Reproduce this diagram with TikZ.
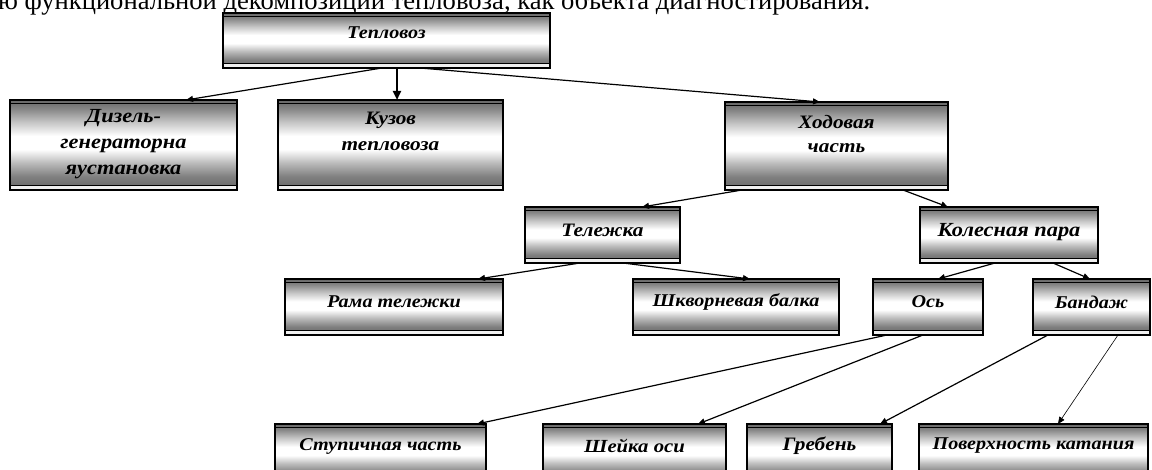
\documentclass[tikz,border=0pt]{standalone}
\usepackage{fontspec}
\setmainfont{Liberation Serif}
\newfontfamily\boxfont[FakeStretch=1.12]{Liberation Serif}
\usetikzlibrary{arrows.meta,calc}
\definecolor{cA}{gray}{0.40}
\definecolor{cB}{gray}{0.53}
\definecolor{cC}{gray}{0.78}
\definecolor{cD}{gray}{0.73}
\definecolor{cE}{gray}{0.50}
\pgfdeclareverticalshading{cyl}{100bp}{color(0bp)=(cA); color(25bp)=(cA); color(32.5bp)=(cE); color(40bp)=(cD); color(47.5bp)=(white); color(55bp)=(white); color(62.5bp)=(cC); color(70bp)=(cB); color(75bp)=(cA); color(100bp)=(cA)}
\tikzset{
  box/.style={rectangle, draw=black, line width=1.2pt, shading=cyl, inner sep=0pt, outer sep=0pt,
    path picture={
      \draw[line width=0.9pt] ([yshift=-3.6pt]path picture bounding box.north west) -- ([yshift=-3.6pt]path picture bounding box.north east);
      \fill[black!6] ([yshift=0.6pt]path picture bounding box.south west) rectangle ([yshift=3.6pt]path picture bounding box.south east);
      \draw[line width=1pt] ([yshift=4.4pt]path picture bounding box.south west) -- ([yshift=4.4pt]path picture bounding box.south east);
    }},
  lbl/.style 2 args={font=\boxfont\bfseries\itshape\fontsize{#1}{#2}\selectfont, inner sep=0pt, align=center, text=black},
  arr/.style={-{Triangle[length=7pt,width=6pt]}, line width=1.2pt},
  thickarr/.style={-{Triangle[length=9pt,width=8pt]}, line width=2.2pt},
  thinarr/.style={-{Triangle[length=7pt,width=6pt]}, line width=0.6pt}
}
\begin{document}
\begin{tikzpicture}[x=1pt,y=-1pt]
\useasboundingbox (0,0) rectangle (1152,470);
\fill[white] (0,0) rectangle (1152,470);
\clip (0,0) rectangle (1152,470);

\node[anchor=base west, inner sep=0pt, font=\fontsize{26.6}{30}\selectfont] (hdr) at (-2,9.5) {ю функциональной декомпозиции тепловоза, как объекта диагностирования.};

% level 0
\node[box, minimum width=327pt, minimum height=55pt] (tep) at (386.5,40.5) {};
% level 1
\node[box, minimum width=227pt, minimum height=90pt] (diz) at (123.5,145) {};
\node[box, minimum width=225pt, minimum height=90pt] (kuz) at (390.5,145) {};
\node[box, minimum width=223pt, minimum height=88pt] (hod) at (836.5,146) {};
% level 2
\node[box, minimum width=155pt, minimum height=56pt] (tel) at (602.5,235) {};
\node[box, minimum width=178pt, minimum height=56pt] (kol) at (1009,235) {};
% level 3
\node[box, minimum width=218pt, minimum height=56pt] (ram) at (394,307) {};
\node[box, minimum width=206pt, minimum height=56pt] (shk) at (736,307) {};
\node[box, minimum width=110pt, minimum height=56pt] (os) at (928,307) {};
\node[box, minimum width=117pt, minimum height=56pt] (band) at (1091.5,307) {};
% level 4
\node[box, minimum width=211pt, minimum height=57pt] (stup) at (380.5,452.5) {};
\node[box, minimum width=183pt, minimum height=57pt] (shey) at (634.5,452.5) {};
\node[box, minimum width=145pt, minimum height=57pt] (greb) at (819.5,452.5) {};
\node[box, minimum width=229pt, minimum height=57pt] (pov) at (1033.5,452.5) {};

% labels
\node[lbl={18}{22}] (tep-t) at (386.5,33) {Тепловоз};
\node[lbl={20}{26}] (diz-t) at (123.5,144) {Дизель-\\генераторна\\яустановка};
\node[lbl={19}{26}] (kuz-t) at (390.5,131) {Кузов\\тепловоза};
\node[lbl={19}{24}] (hod-t) at (836.5,134) {Ходовая\\часть};
\node[lbl={19}{22}] (tel-t) at (602.5,230) {Тележка};
\node[lbl={20}{24}] (kol-t) at (1009,232) {Колесная пара};
\node[lbl={18}{22}] (ram-t) at (394,302) {Рама тележки};
\node[lbl={18}{22}] (shk-t) at (736,302) {Шкворневая балка};
\node[lbl={18}{22}] (os-t) at (928,302) {Ось};
\node[lbl={18}{22}] (band-t) at (1091.5,302) {Бандаж};
\node[lbl={18}{22}] (stup-t) at (380.5,446) {Ступичная часть};
\node[lbl={18.5}{22}] (shey-t) at (634.5,446) {Шейка оси};
\node[lbl={19}{22}] (greb-t) at (819.5,446) {Гребень};
\node[lbl={18}{22}] (pov-t) at (1033.5,446) {Поверхность катания};

% connectors
\draw[arr] ([xshift=-4.5pt]tep.south) -- ([xshift=62.5pt]diz.north);
\draw[thickarr] ([xshift=10.5pt]tep.south) -- ([xshift=6.5pt]kuz.north);
\draw[arr] ([xshift=33.5pt]tep.south) -- ([xshift=-16.5pt]hod.north);
\draw[arr] ([xshift=-94.5pt]hod.south) -- ([xshift=39.5pt]tel.north);
\draw[arr] ([xshift=66.5pt]hod.south) -- ([xshift=-61pt]kol.north);
\draw[arr] ([xshift=-22.5pt]tel.south) -- ([xshift=84pt]ram.north);
\draw[arr] ([xshift=20.5pt]tel.south) -- ([xshift=14pt]shk.north);
\draw[arr] ([xshift=-14pt]kol.south) -- ([xshift=10pt]os.north);
\draw[arr] ([xshift=44pt]kol.south) -- ([xshift=-1.5pt]band.north);
\draw[arr] ([xshift=-41pt]os.south) -- ([xshift=96.5pt]stup.north);
\draw[arr] ([xshift=-5pt]os.south) -- ([xshift=63.5pt]shey.north);
\draw[arr] ([xshift=-43.5pt]band.south) -- ([xshift=60.5pt]greb.north);
\draw[thinarr] ([xshift=26.5pt]band.south) -- ([xshift=24.5pt]pov.north);
\end{tikzpicture}
\end{document}
